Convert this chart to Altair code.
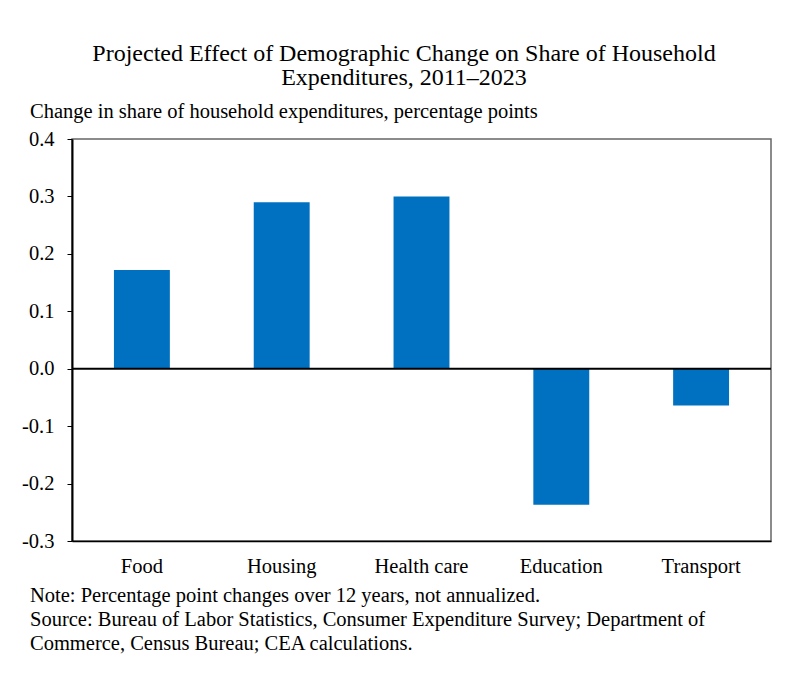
import altair as alt
import pandas as pd

categories = ["Food", "Housing", "Health care", "Education", "Transport"]
values = [0.172, 0.290, 0.300, -0.237, -0.064]

title_lines = ["Projected Effect of Demographic Change on Share of Household",
               "Expenditures, 2011\u20132023"]
y_title = "Change in share of household expenditures, percentage points"
notes = ["Note: Percentage point changes over 12 years, not annualized.",
         "Source: Bureau of Labor Statistics, Consumer Expenditure Survey; Department of",
         "Commerce, Census Bureau; CEA calculations."]

FONT = "Liberation Serif"
FS = 20.5
W, H = 699, 402
PL, PT = 64, 131
TOTW, TOTH = 777, 664
X0, Y0 = PL + 8, PT + 8  # plot origin in page coordinates

df = pd.DataFrame({"cat": categories, "val": values})

bars = alt.Chart(df).mark_bar(color="#0070C0").encode(
    x=alt.X("cat:N", sort=categories, title=None,
            scale=alt.Scale(paddingInner=0.6, paddingOuter=0.3),
            axis=alt.Axis(labelAngle=0, labelFont=FONT, labelFontSize=FS,
                          labelColor="black", ticks=False, domainColor="black",
                          domainWidth=1.5, labelPadding=15)),
    y=alt.Y("val:Q", title=None,
            scale=alt.Scale(domain=[-0.3, 0.4], nice=False),
            axis=alt.Axis(values=[-0.3, -0.2, -0.1, 0.0, 0.1, 0.2, 0.3, 0.4],
                          labelExpr="datum.value < 0 ? '-' + format(-datum.value, '.1f') : format(datum.value, '.1f')",
                          labelFont=FONT, labelFontSize=FS, labelColor="black",
                          tickColor="black", tickSize=5, domainColor="black",
                          domainWidth=2, grid=False, labelPadding=13)),
)

zero = alt.Chart(pd.DataFrame({"z": [0]})).mark_rule(color="black", strokeWidth=2).encode(
    y="z:Q")

title_df = pd.DataFrame({"t": title_lines, "yy": [54 - Y0, 78 - Y0]})
title_marks = alt.Chart(title_df).mark_text(font=FONT, fontSize=24, color="black",
                                            align="center", baseline="middle").encode(
    text="t:N", x=alt.value(404 - X0), y=alt.Y("yy:Q", scale=None))

ytitle = alt.Chart(pd.DataFrame({"t": [y_title]})).mark_text(
    font=FONT, fontSize=FS, color="black", align="left", baseline="middle").encode(
    text="t:N", x=alt.value(30 - X0), y=alt.value(112 - Y0))

notes_df = pd.DataFrame({"t": notes, "yy": [596 - Y0, 620 - Y0, 644 - Y0]})
note_marks = alt.Chart(notes_df).mark_text(font=FONT, fontSize=FS, color="black",
                                           align="left", baseline="middle").encode(
    text="t:N", x=alt.value(30 - X0), y=alt.Y("yy:Q", scale=None))

chart = alt.layer(bars, zero, title_marks, ytitle, note_marks).properties(
    width=W, height=H,
    autosize=alt.AutoSizeParams(type="none"),
    padding={"left": PL, "top": PT, "right": TOTW - PL - W, "bottom": TOTH - PT - H},
    background="white",
).configure_view(stroke="#666666", strokeWidth=1.5)

chart.save("out.html", embed_options={"renderer": "svg", "actions": False})
